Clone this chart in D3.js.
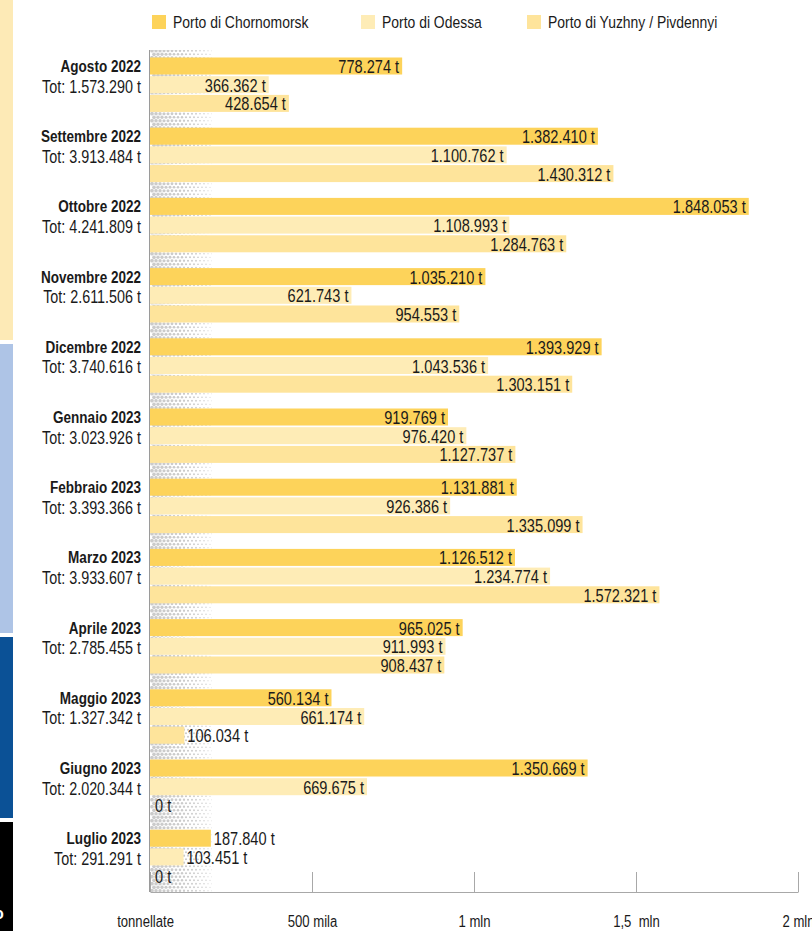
<!DOCTYPE html>
<html>
<head>
<meta charset="utf-8">
<script src="https://cdn.jsdelivr.net/npm/d3@7"></script>
<style>
  body { margin: 0; background: #fff; }
  svg { display: block; font-family: "Liberation Sans", Arial, sans-serif; }
</style>
</head>
<body>
<svg id="chart"></svg>
<script>
// months and totals as printed
const months = ["Agosto 2022", "Settembre 2022", "Ottobre 2022", "Novembre 2022", "Dicembre 2022",
  "Gennaio 2023", "Febbraio 2023", "Marzo 2023", "Aprile 2023", "Maggio 2023", "Giugno 2023", "Luglio 2023"];
const totals = [1573290, 3913484, 4241809, 2611506, 3740616, 3023926, 3393366, 3933607, 2785455, 1327342, 2020344, 291291];

const ports = ["Porto di Chornomorsk", "Porto di Odessa", "Porto di Yuzhny / Pivdennyi"];
const chornomorsk = [778274, 1382410, 1848053, 1035210, 1393929, 919769, 1131881, 1126512, 965025, 560134, 1350669, 187840];
const odessa = [366362, 1100762, 1108993, 621743, 1043536, 976420, 926386, 1234774, 911993, 661174, 669675, 103451];
const yuzhny = [428654, 1430312, 1284763, 954553, 1303151, 1127737, 1335099, 1572321, 908437, 106034, 0, 0];

const tickValues = [0, 500000, 1000000, 1500000, 2000000];
const tickLabels = ["tonnellate", "500 mila", "1 mln", "1,5  mln", "2 mln"];

const colors = ["#fdd35a", "#feecb6", "#fee49b"];

const width = 812, height = 931;
const NARROW = 0.82; // condensed look: squeeze the regular face horizontally
const svg = d3.select("#chart").attr("width", width).attr("height", height);

const it = d3.formatLocale({decimal: ",", thousands: ".", grouping: [3], currency: ["", "€"]});
const fmt = it.format(",d");

function place(sel, xf, yf) {
  sel.attr("transform", (d, i) => "translate(" + xf(d, i) + "," + yf(d, i) + ") scale(" + NARROW + ",1)");
}

// side strips
const strips = [
  {y0: 0, y1: 340, c: "#fdeab6"},
  {y0: 344, y1: 633, c: "#aec4e6"},
  {y0: 637, y1: 818, c: "#0b5196"},
  {y0: 822, y1: 931, c: "#000"}
];
svg.selectAll("rect.strip").data(strips).enter().append("rect")
  .attr("class", "strip")
  .attr("x", 0).attr("width", 13)
  .attr("y", d => d.y0).attr("height", d => d.y1 - d.y0)
  .attr("fill", d => d.c);
svg.append("text").attr("x", -6).attr("y", 919)
  .attr("fill", "#fff").style("font-weight", "bold").style("font-size", "16px").text("o");

// scales
const x = d3.scaleLinear().domain([0, 2000000]).range([150, 798]);
const y = d3.scaleBand().domain(months).range([57.5, 57.5 + 70.2 * months.length]);
const ySub = d3.scaleBand().domain(ports).range([0, 54.4]).paddingInner(0.09);

const axisY = 892, plotTop = 50;

// halftone band behind the bars
const defs = svg.append("defs");
const pat = defs.append("pattern").attr("id", "dots")
  .attr("patternUnits", "userSpaceOnUse")
  .attr("x", x(0)).attr("y", 0).attr("width", 64).attr("height", 7);
for (let row = 0; row < 2; row++) {
  for (let i = 0; i < 16; i++) {
    const cx = 2 + i * 4 + row * 2;
    if (cx > 62) continue;
    const r = Math.max(0.4, 1.9 - cx * 0.022);
    pat.append("circle").attr("cx", cx).attr("cy", 1.75 + row * 3.5).attr("r", r).attr("fill", "#cbcbcb");
  }
}
svg.append("rect")
  .attr("x", x(0)).attr("y", plotTop)
  .attr("width", 62).attr("height", axisY - plotTop)
  .attr("fill", "url(#dots)");

// bars
const series = [chornomorsk, odessa, yuzhny];
const rows = [];
months.forEach((m, i) => {
  ports.forEach((p, j) => rows.push({month: m, port: p, value: series[j][i], j: j}));
});

const g = svg.append("g");
g.selectAll("rect.bar").data(rows).enter().append("rect")
  .attr("class", "bar")
  .attr("x", x(0))
  .attr("y", d => y(d.month) + ySub(d.port))
  .attr("width", d => x(d.value) - x(0))
  .attr("height", ySub.bandwidth())
  .attr("fill", d => colors[d.j]);

// value labels, inside the bar end when they fit
g.selectAll("text.val").data(rows).enter().append("text")
  .attr("class", "val")
  .style("font-size", "17.8px")
  .attr("fill", "#1a1a1a")
  .text(d => fmt(d.value) + " t")
  .each(function(d) {
    const w = this.getComputedTextLength() * NARROW;
    const bw = x(d.value) - x(0);
    const ty = y(d.month) + ySub(d.port) + ySub.bandwidth() / 2 + 7;
    const sel = d3.select(this);
    let tx;
    if (bw > w + 8) {
      tx = x(d.value) - 3;
      sel.attr("text-anchor", "end");
    } else {
      tx = x(d.value) + (d.value === 0 ? 5 : 3);
      sel.attr("text-anchor", "start");
    }
    sel.attr("transform", "translate(" + tx + "," + ty + ") scale(" + NARROW + ",1)");
  });

// row labels
const lab = svg.append("g");
lab.selectAll("text.month").data(months).enter().append("text")
  .attr("class", "month")
  .attr("text-anchor", "end")
  .style("font-size", "16.5px").style("font-weight", "bold")
  .attr("fill", "#1a1a1a")
  .text(d => d)
  .call(place, () => 141, d => y(d) + 14.5);
lab.selectAll("text.tot").data(months).enter().append("text")
  .attr("class", "tot")
  .attr("text-anchor", "end")
  .style("font-size", "17.5px")
  .attr("fill", "#1a1a1a")
  .text((d, i) => "Tot: " + fmt(totals[i]) + " t")
  .call(place, () => 141, d => y(d) + 35);

// axes
svg.append("line")
  .attr("x1", x(0) - 0.5).attr("x2", x(0) - 0.5)
  .attr("y1", plotTop).attr("y2", axisY)
  .attr("stroke", "#9a9a9a");

const xAxis = d3.axisBottom(x)
  .tickValues(tickValues)
  .tickFormat((d, i) => tickLabels[i])
  .tickSizeInner(-20)
  .tickSizeOuter(0)
  .tickPadding(24);

const ax = svg.append("g").attr("transform", "translate(0," + axisY + ")").call(xAxis);
ax.attr("font-family", null).attr("font-size", null);
ax.select(".domain").attr("stroke", "#a8a8a8");
ax.selectAll(".tick line").attr("stroke", "#a8a8a8");
ax.selectAll(".tick text")
  .attr("fill", "#1a1a1a")
  .style("font-size", "16px")
  .style("white-space", "pre")
  .attr("x", (d, i) => i === 0 ? -6 : 0)
  .attr("transform", "scale(" + NARROW + ",1)");

// legend
const leg = svg.append("g");
const legX = [152, 361, 527];
const li = leg.selectAll("g").data(ports).enter().append("g")
  .attr("transform", (d, i) => "translate(" + legX[i] + ",15)");
li.append("rect").attr("width", 14).attr("height", 14).attr("fill", (d, i) => colors[i]);
li.append("text")
  .style("font-size", "17px").attr("fill", "#1a1a1a")
  .text(d => d)
  .call(place, () => 21, () => 13);
</script>
</body>
</html>
